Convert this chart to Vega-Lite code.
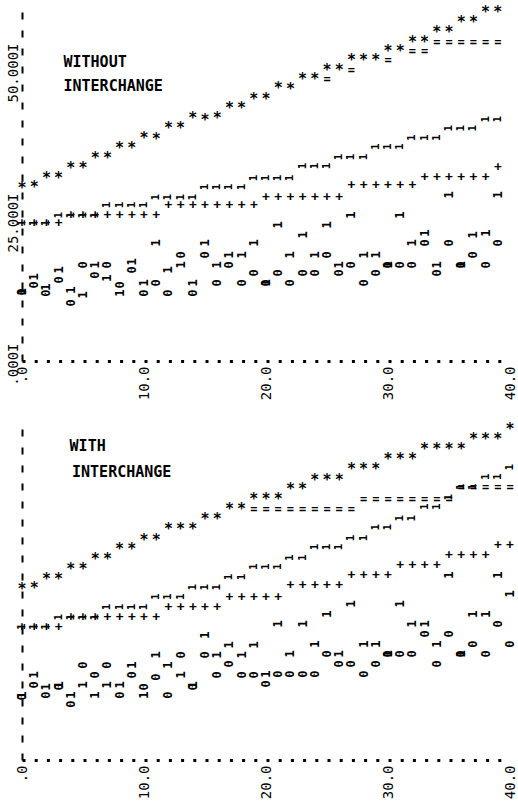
{
  "$schema": "https://vega.github.io/schema/vega-lite/v6.json",
  "background": "white",
  "padding": {"left": 6, "top": 4, "right": 4, "bottom": 2},
  "spacing": 21,
  "config": {
    "view": {"stroke": null},
    "font": "DejaVu Sans Mono",
    "axis": {"labelFont": "DejaVu Sans Mono", "labelColor": "#000", "labelFontSize": 14, "ticks": false, "grid": false, "domainColor": "#000", "title": null},
    "axisX": {"domainDash": [3, 9.2], "domainWidth": 3, "labelAngle": 270, "labelAlign": "right", "labelBaseline": "middle", "labelPadding": 5},
    "axisY": {"domainDash": [7, 11], "domainWidth": 2, "labelAngle": 270, "labelAlign": "right", "labelBaseline": "bottom", "labelPadding": 2},
    "text": {"font": "DejaVu Sans Mono", "fontWeight": "bold", "color": "#000", "fontSize": 12}
  },
  "datasets": {
    "t_star": [{"x":0,"v":25.8},{"x":1,"v":26.0},{"x":2,"v":27.5},{"x":3,"v":27.5},{"x":4,"v":29.2},{"x":5,"v":29.2},{"x":6,"v":30.8},{"x":7,"v":30.8},{"x":8,"v":32.5},{"x":9,"v":32.5},{"x":10,"v":34.2},{"x":11,"v":34.0},{"x":12,"v":35.8},{"x":13,"v":35.8},{"x":14,"v":37.5},{"x":15,"v":37.2},{"x":16,"v":37.5},{"x":17,"v":39.2},{"x":18,"v":39.2},{"x":19,"v":40.7},{"x":20,"v":40.7},{"x":21,"v":42.5},{"x":22,"v":42.3},{"x":23,"v":44.0},{"x":24,"v":44.0},{"x":25,"v":45.5},{"x":26,"v":45.5},{"x":27,"v":47.2},{"x":28,"v":47.2},{"x":29,"v":47.2},{"x":30,"v":48.7},{"x":31,"v":48.7},{"x":32,"v":50.2},{"x":33,"v":50.2},{"x":34,"v":51.8},{"x":35,"v":51.8},{"x":36,"v":53.5},{"x":37,"v":53.5},{"x":38,"v":55.2},{"x":39,"v":55.2}],
    "t_eq": [{"x":25,"v":44.0},{"x":27,"v":45.5},{"x":30,"v":47.2},{"x":32,"v":48.7},{"x":33,"v":48.7},{"x":34,"v":50.2},{"x":35,"v":50.2},{"x":36,"v":50.2},{"x":37,"v":50.2},{"x":38,"v":50.2},{"x":39,"v":50.2}],
    "t_1u": [{"x":0,"v":20.0},{"x":1,"v":20.0},{"x":2,"v":20.0},{"x":3,"v":21.3},{"x":4,"v":21.3},{"x":5,"v":21.3},{"x":6,"v":21.3},{"x":7,"v":23.0},{"x":8,"v":23.0},{"x":9,"v":23.0},{"x":10,"v":23.0},{"x":11,"v":24.3},{"x":12,"v":24.3},{"x":13,"v":24.3},{"x":14,"v":24.3},{"x":15,"v":26.0},{"x":16,"v":26.0},{"x":17,"v":26.0},{"x":18,"v":26.0},{"x":19,"v":27.5},{"x":20,"v":27.5},{"x":21,"v":27.5},{"x":22,"v":27.5},{"x":23,"v":29.5},{"x":24,"v":29.5},{"x":25,"v":29.5},{"x":26,"v":31.0},{"x":27,"v":31.0},{"x":28,"v":31.0},{"x":29,"v":32.7},{"x":30,"v":32.7},{"x":31,"v":32.7},{"x":32,"v":34.2},{"x":33,"v":34.2},{"x":34,"v":34.2},{"x":35,"v":35.8},{"x":36,"v":35.8},{"x":37,"v":35.8},{"x":38,"v":37.3},{"x":39,"v":37.3}],
    "t_plus": [{"x":0,"v":20.0},{"x":1,"v":20.0},{"x":2,"v":20.0},{"x":3,"v":20.0},{"x":4,"v":21.3},{"x":5,"v":21.3},{"x":6,"v":21.3},{"x":7,"v":21.3},{"x":8,"v":21.3},{"x":9,"v":21.3},{"x":10,"v":21.3},{"x":11,"v":21.3},{"x":12,"v":23.0},{"x":13,"v":23.0},{"x":14,"v":23.0},{"x":15,"v":23.0},{"x":16,"v":23.0},{"x":17,"v":23.0},{"x":18,"v":23.0},{"x":19,"v":23.0},{"x":20,"v":24.3},{"x":21,"v":24.3},{"x":22,"v":24.3},{"x":23,"v":24.3},{"x":24,"v":24.3},{"x":25,"v":24.3},{"x":26,"v":24.3},{"x":27,"v":26.3},{"x":28,"v":26.3},{"x":29,"v":26.3},{"x":30,"v":26.3},{"x":31,"v":26.3},{"x":32,"v":26.3},{"x":33,"v":27.7},{"x":34,"v":27.7},{"x":35,"v":27.7},{"x":36,"v":27.7},{"x":37,"v":27.7},{"x":38,"v":27.7},{"x":39,"v":29.3}],
    "t_0": [{"x":0,"v":8.5},{"x":1,"v":9.7},{"x":2,"v":8.3},{"x":3,"v":10.5},{"x":4,"v":6.7},{"x":5,"v":13.0},{"x":6,"v":11.3},{"x":7,"v":13.0},{"x":8,"v":9.7},{"x":9,"v":12.2},{"x":10,"v":8.3},{"x":11,"v":10.0},{"x":12,"v":8.3},{"x":13,"v":14.7},{"x":14,"v":8.3},{"x":15,"v":14.7},{"x":16,"v":10.0},{"x":17,"v":13.0},{"x":18,"v":10.0},{"x":19,"v":11.7},{"x":20,"v":10.0},{"x":21,"v":11.7},{"x":22,"v":10.0},{"x":23,"v":11.7},{"x":24,"v":11.7},{"x":25,"v":14.7},{"x":26,"v":11.7},{"x":27,"v":13.0},{"x":28,"v":10.0},{"x":29,"v":11.7},{"x":30,"v":13.0},{"x":31,"v":13.0},{"x":32,"v":13.0},{"x":33,"v":16.7},{"x":34,"v":11.7},{"x":35,"v":16.7},{"x":36,"v":13.0},{"x":37,"v":14.7},{"x":38,"v":13.0},{"x":39,"v":16.7}],
    "t_1": [{"x":0,"v":8.5},{"x":1,"v":11.0},{"x":2,"v":9.3},{"x":3,"v":12.2},{"x":4,"v":8.8},{"x":5,"v":8.0},{"x":6,"v":13.0},{"x":7,"v":10.8},{"x":8,"v":8.3},{"x":9,"v":13.5},{"x":10,"v":10.0},{"x":11,"v":16.7},{"x":12,"v":12.2},{"x":13,"v":13.0},{"x":14,"v":10.0},{"x":15,"v":16.7},{"x":16,"v":13.0},{"x":17,"v":14.7},{"x":18,"v":14.7},{"x":19,"v":16.7},{"x":20,"v":10.0},{"x":21,"v":19.7},{"x":22,"v":14.7},{"x":23,"v":18.0},{"x":24,"v":14.7},{"x":25,"v":19.7},{"x":26,"v":13.0},{"x":27,"v":21.3},{"x":28,"v":14.7},{"x":29,"v":14.7},{"x":30,"v":13.0},{"x":31,"v":21.3},{"x":32,"v":16.7},{"x":33,"v":18.3},{"x":34,"v":13.0},{"x":35,"v":24.7},{"x":36,"v":13.0},{"x":37,"v":18.0},{"x":38,"v":18.3},{"x":39,"v":24.7}],
    "t_lab": [{"x":3.4,"v":46.8,"label":"WITHOUT"},{"x":3.4,"v":42.8,"label":"INTERCHANGE"}],
    "b_star": [{"x":0,"v":25.5},{"x":1,"v":25.7},{"x":2,"v":27.2},{"x":3,"v":27.2},{"x":4,"v":28.8},{"x":5,"v":28.8},{"x":6,"v":30.5},{"x":7,"v":30.5},{"x":8,"v":32.2},{"x":9,"v":32.2},{"x":10,"v":33.7},{"x":11,"v":33.7},{"x":12,"v":35.5},{"x":13,"v":35.5},{"x":14,"v":35.5},{"x":15,"v":37.2},{"x":16,"v":37.2},{"x":17,"v":38.8},{"x":18,"v":38.8},{"x":19,"v":40.5},{"x":20,"v":40.5},{"x":21,"v":40.5},{"x":22,"v":42.2},{"x":23,"v":42.2},{"x":24,"v":43.7},{"x":25,"v":43.7},{"x":26,"v":43.7},{"x":27,"v":45.5},{"x":28,"v":45.5},{"x":29,"v":45.5},{"x":30,"v":47.2},{"x":31,"v":47.2},{"x":32,"v":47.2},{"x":33,"v":48.8},{"x":34,"v":48.8},{"x":35,"v":48.8},{"x":36,"v":48.8},{"x":37,"v":50.5},{"x":38,"v":50.5},{"x":39,"v":50.5},{"x":40,"v":52.2}],
    "b_eq": [{"x":19,"v":38.8},{"x":20,"v":38.8},{"x":21,"v":38.8},{"x":22,"v":38.8},{"x":23,"v":38.8},{"x":24,"v":38.8},{"x":25,"v":38.8},{"x":26,"v":38.8},{"x":27,"v":38.8},{"x":28,"v":40.5},{"x":29,"v":40.5},{"x":30,"v":40.5},{"x":31,"v":40.5},{"x":32,"v":40.5},{"x":33,"v":40.5},{"x":34,"v":40.5},{"x":35,"v":40.5},{"x":36,"v":42.5},{"x":37,"v":42.5},{"x":38,"v":42.5},{"x":39,"v":42.5},{"x":40,"v":42.5}],
    "b_1u": [{"x":0,"v":19.2},{"x":1,"v":19.2},{"x":2,"v":19.2},{"x":3,"v":20.8},{"x":4,"v":20.8},{"x":5,"v":20.8},{"x":6,"v":20.8},{"x":7,"v":22.5},{"x":8,"v":22.5},{"x":9,"v":22.5},{"x":10,"v":22.5},{"x":11,"v":24.2},{"x":12,"v":24.2},{"x":13,"v":24.2},{"x":14,"v":25.8},{"x":15,"v":25.8},{"x":16,"v":25.8},{"x":17,"v":27.5},{"x":18,"v":27.5},{"x":19,"v":29.2},{"x":20,"v":29.2},{"x":21,"v":29.2},{"x":22,"v":30.7},{"x":23,"v":30.7},{"x":24,"v":32.5},{"x":25,"v":32.5},{"x":26,"v":32.5},{"x":27,"v":34.0},{"x":28,"v":34.0},{"x":29,"v":35.8},{"x":30,"v":35.8},{"x":31,"v":37.3},{"x":32,"v":37.3},{"x":33,"v":39.2},{"x":34,"v":39.2},{"x":35,"v":40.8},{"x":36,"v":42.5},{"x":37,"v":42.5},{"x":38,"v":44.2},{"x":39,"v":44.2},{"x":40,"v":45.8}],
    "b_plus": [{"x":0,"v":19.2},{"x":1,"v":19.2},{"x":2,"v":19.2},{"x":3,"v":19.2},{"x":4,"v":20.8},{"x":5,"v":20.8},{"x":6,"v":20.8},{"x":7,"v":20.8},{"x":8,"v":20.8},{"x":9,"v":20.8},{"x":10,"v":20.8},{"x":11,"v":20.8},{"x":12,"v":22.5},{"x":13,"v":22.5},{"x":14,"v":22.5},{"x":15,"v":22.5},{"x":16,"v":22.5},{"x":17,"v":24.2},{"x":18,"v":24.2},{"x":19,"v":24.2},{"x":20,"v":24.2},{"x":21,"v":24.2},{"x":22,"v":26.2},{"x":23,"v":26.2},{"x":24,"v":26.2},{"x":25,"v":26.2},{"x":26,"v":26.2},{"x":27,"v":27.8},{"x":28,"v":27.8},{"x":29,"v":27.8},{"x":30,"v":27.8},{"x":31,"v":29.5},{"x":32,"v":29.5},{"x":33,"v":29.5},{"x":34,"v":29.5},{"x":35,"v":31.2},{"x":36,"v":31.2},{"x":37,"v":31.2},{"x":38,"v":31.2},{"x":39,"v":32.8},{"x":40,"v":32.8}],
    "b_0": [{"x":0,"v":7.5},{"x":1,"v":9.5},{"x":2,"v":7.8},{"x":3,"v":9.2},{"x":4,"v":6.3},{"x":5,"v":12.8},{"x":6,"v":11.2},{"x":7,"v":12.8},{"x":8,"v":7.8},{"x":9,"v":11.2},{"x":10,"v":9.2},{"x":11,"v":10.8},{"x":12,"v":7.8},{"x":13,"v":14.5},{"x":14,"v":9.2},{"x":15,"v":14.5},{"x":16,"v":11.2},{"x":17,"v":13.0},{"x":18,"v":11.2},{"x":19,"v":11.2},{"x":20,"v":9.7},{"x":21,"v":11.3},{"x":22,"v":11.3},{"x":23,"v":11.3},{"x":24,"v":11.3},{"x":25,"v":14.7},{"x":26,"v":13.0},{"x":27,"v":13.0},{"x":28,"v":11.3},{"x":29,"v":13.0},{"x":30,"v":14.7},{"x":31,"v":14.7},{"x":32,"v":14.7},{"x":33,"v":18.0},{"x":34,"v":13.0},{"x":35,"v":18.0},{"x":36,"v":14.7},{"x":37,"v":16.3},{"x":38,"v":14.7},{"x":39,"v":19.7},{"x":40,"v":16.3}],
    "b_1": [{"x":0,"v":7.8},{"x":1,"v":11.2},{"x":2,"v":9.2},{"x":3,"v":9.5},{"x":4,"v":7.8},{"x":5,"v":9.5},{"x":6,"v":7.8},{"x":7,"v":9.5},{"x":8,"v":9.5},{"x":9,"v":12.8},{"x":10,"v":7.8},{"x":11,"v":14.5},{"x":12,"v":12.8},{"x":13,"v":11.2},{"x":14,"v":9.5},{"x":15,"v":17.8},{"x":16,"v":14.5},{"x":17,"v":16.2},{"x":18,"v":14.5},{"x":19,"v":16.2},{"x":20,"v":11.3},{"x":21,"v":19.7},{"x":22,"v":14.7},{"x":23,"v":19.7},{"x":24,"v":16.3},{"x":25,"v":21.3},{"x":26,"v":14.7},{"x":27,"v":23.0},{"x":28,"v":16.3},{"x":29,"v":16.3},{"x":30,"v":14.7},{"x":31,"v":23.0},{"x":32,"v":19.7},{"x":33,"v":19.7},{"x":34,"v":16.3},{"x":35,"v":27.8},{"x":36,"v":14.7},{"x":37,"v":21.3},{"x":38,"v":21.3},{"x":39,"v":27.8},{"x":40,"v":24.7}],
    "b_lab": [{"x":3.9,"v":49.3,"label":"WITH"},{"x":4.1,"v":45.0,"label":"INTERCHANGE"}]
  },
  "vconcat": [
    {
      "width": 488,
      "height": 354,
      "encoding": {
        "x": {"field": "x", "type": "quantitative", "scale": {"domain": [0, 40], "nice": false, "zero": false},
              "axis": {"title": null, "values": [0, 10, 20, 30, 40], "labelExpr": "datum.value == 0 ? '.0' : format(datum.value, '.1f')"}},
        "y": {"field": "v", "type": "quantitative", "scale": {"domain": [-3, 56], "nice": false, "zero": false},
              "axis": {"title": null, "values": [0, 25, 50], "labelExpr": "datum.value == 0 ? '.000I' : format(datum.value, '.3f') + 'I'"}}
      },
      "layer": [
        {"data": {"name": "t_star"}, "mark": {"type": "text", "text": "*", "fontSize": 15}},
        {"data": {"name": "t_eq"}, "mark": {"type": "text", "text": "=", "fontSize": 12}},
        {"data": {"name": "t_1u"}, "mark": {"type": "text", "text": "1", "angle": 270, "fontSize": 11}},
        {"data": {"name": "t_plus"}, "mark": {"type": "text", "text": "+", "fontSize": 13}},
        {"data": {"name": "t_0"}, "mark": {"type": "text", "text": "0", "angle": 270, "fontSize": 12}},
        {"data": {"name": "t_1"}, "mark": {"type": "text", "text": "1", "angle": 270, "fontSize": 12}},
        {"data": {"name": "t_lab"}, "mark": {"type": "text", "align": "left", "fontSize": 15}, "encoding": {"text": {"field": "label"}}},
        {"data": {"values": [{}]}, "mark": {"type": "rule", "strokeDash": [7, 11], "strokeWidth": 2, "color": "#000"},
         "encoding": {"x": {"datum": 40}, "y": {"datum": -3}, "y2": {"datum": 56}}}
      ]
    },
    {
      "width": 488,
      "height": 336,
      "encoding": {
        "x": {"field": "x", "type": "quantitative", "scale": {"domain": [0, 40], "nice": false, "zero": false},
              "axis": {"title": null, "values": [0, 10, 20, 30, 40], "labelExpr": "datum.value == 0 ? '.0' : format(datum.value, '.1f')"}},
        "y": {"field": "v", "type": "quantitative", "scale": {"domain": [-3, 53], "nice": false, "zero": false},
              "axis": {"title": null, "labels": false}}
      },
      "layer": [
        {"data": {"name": "b_star"}, "mark": {"type": "text", "text": "*", "fontSize": 15}},
        {"data": {"name": "b_eq"}, "mark": {"type": "text", "text": "=", "fontSize": 12}},
        {"data": {"name": "b_1u"}, "mark": {"type": "text", "text": "1", "angle": 270, "fontSize": 11}},
        {"data": {"name": "b_plus"}, "mark": {"type": "text", "text": "+", "fontSize": 13}},
        {"data": {"name": "b_0"}, "mark": {"type": "text", "text": "0", "angle": 270, "fontSize": 12}},
        {"data": {"name": "b_1"}, "mark": {"type": "text", "text": "1", "angle": 270, "fontSize": 12}},
        {"data": {"name": "b_lab"}, "mark": {"type": "text", "align": "left", "fontSize": 15}, "encoding": {"text": {"field": "label"}}},
        {"data": {"values": [{}]}, "mark": {"type": "rule", "strokeDash": [7, 11], "strokeWidth": 2, "color": "#000"},
         "encoding": {"x": {"datum": 40}, "y": {"datum": -3}, "y2": {"datum": 53}}}
      ]
    }
  ]
}
